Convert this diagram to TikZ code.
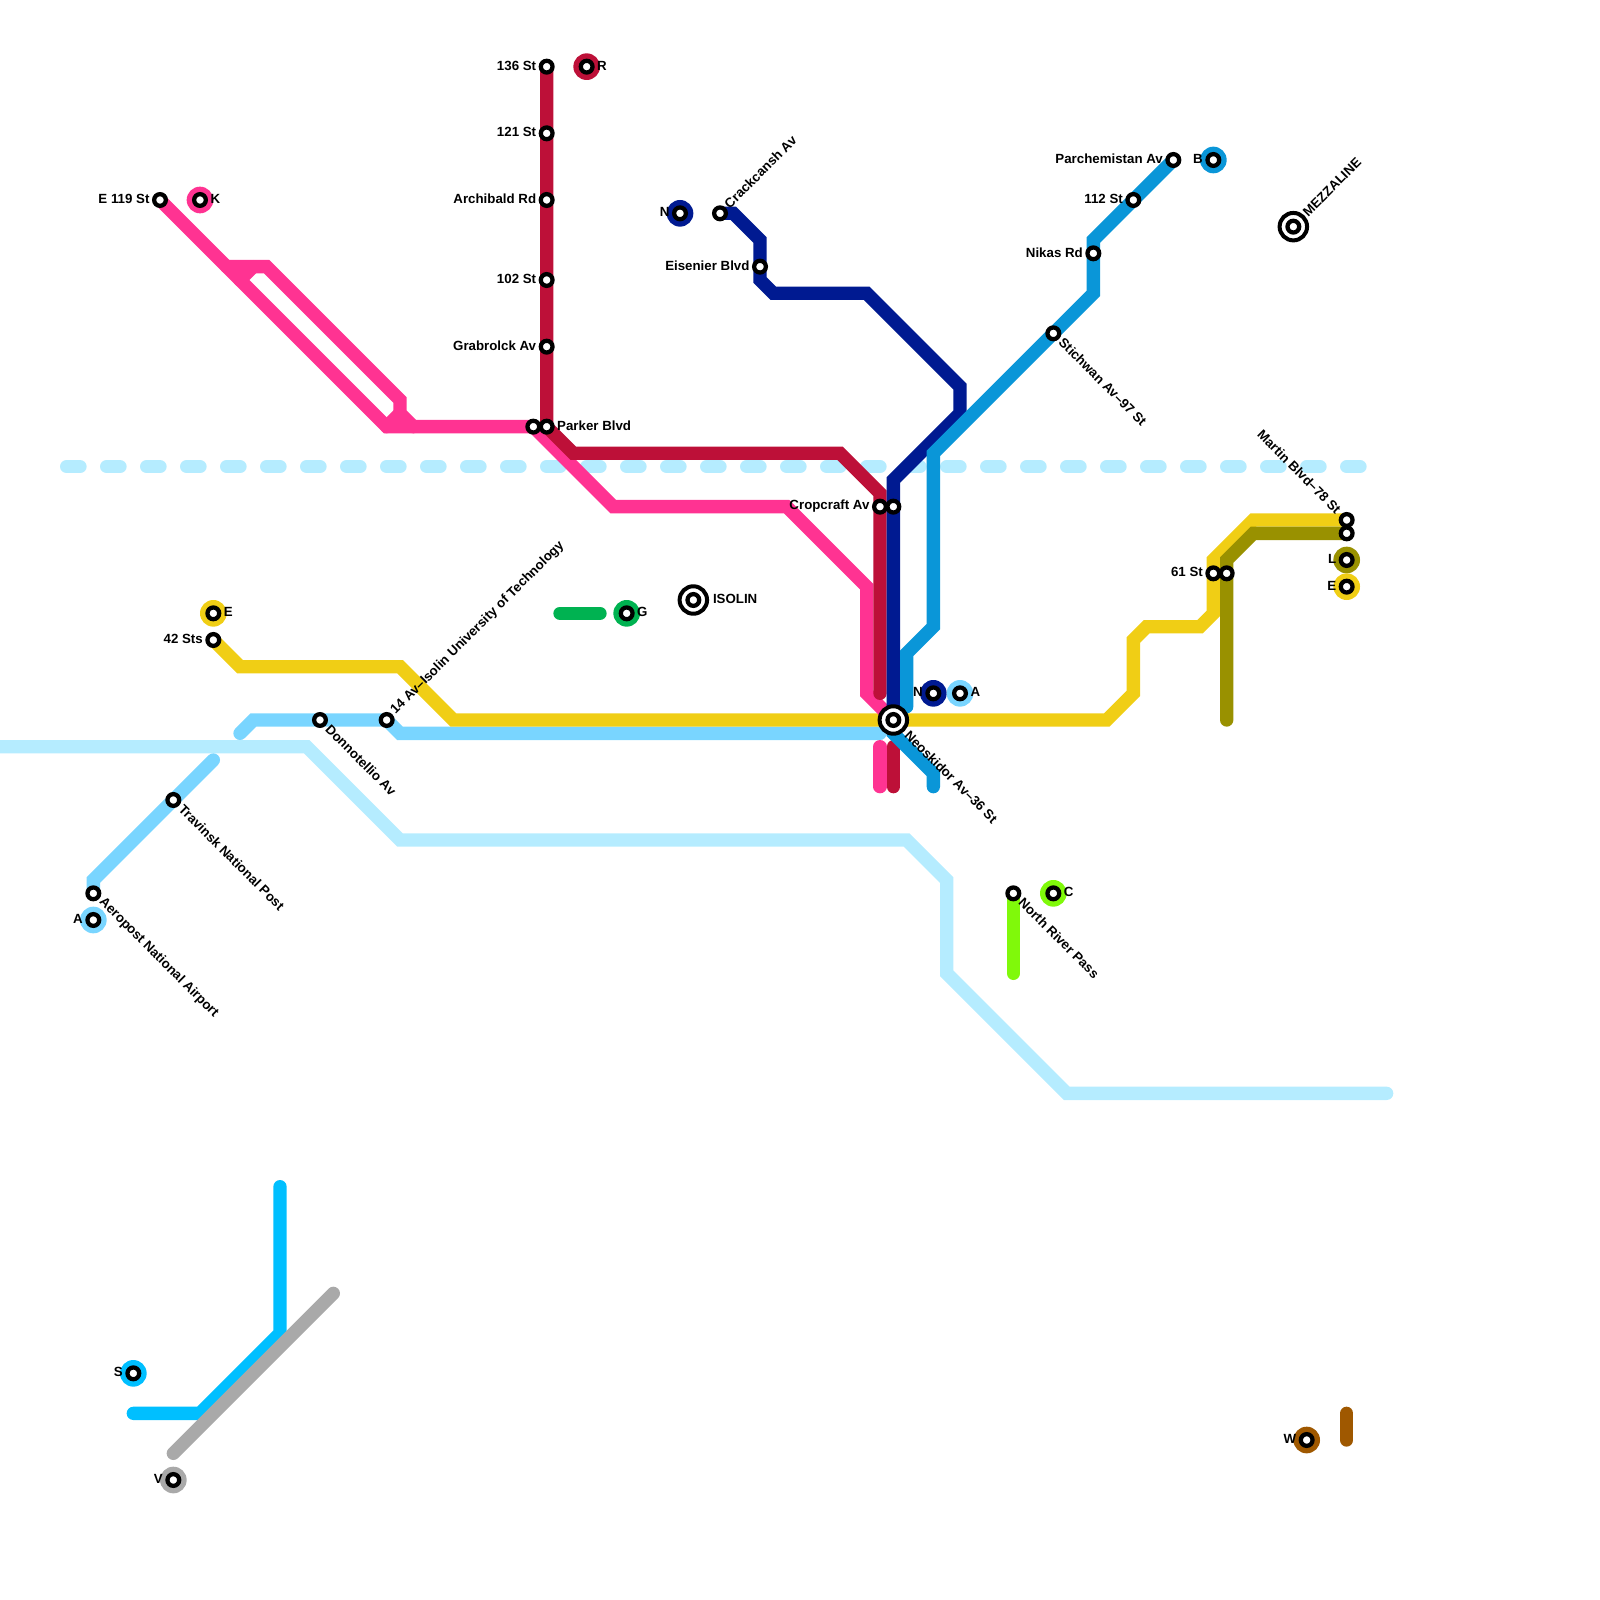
\documentclass[tikz,border=0pt]{standalone}
\usepackage{fontspec}
\setmainfont{Liberation Sans}
\usetikzlibrary{backgrounds}
\definecolor{paleline}{HTML}{B5ECFF}
\definecolor{skyline}{HTML}{79D5FF}
\definecolor{pinkline}{HTML}{FF3392}
\definecolor{redline}{HTML}{BD1038}
\definecolor{navyline}{HTML}{001A91}
\definecolor{blueline}{HTML}{0A96D8}
\definecolor{yellowline}{HTML}{F0CE15}
\definecolor{oliveline}{HTML}{999100}
\definecolor{limeline}{HTML}{80F90A}
\definecolor{greenline}{HTML}{00B251}
\definecolor{brightline}{HTML}{00BFFF}
\definecolor{greyline}{HTML}{A9A9A9}
\definecolor{brownline}{HTML}{9F5800}
\begin{document}
\begin{tikzpicture}[
    x=0.2cm, y=-0.2cm,
    stn/.style={circle, draw=black, fill=white, line width=0.64mm, minimum size=1.76mm, inner sep=0pt, outer sep=0pt},
    disc/.style={circle, inner sep=0pt, outer sep=0pt, minimum size=4mm},
    hub/.style={circle, draw=black, fill=white, line width=0.6mm, minimum size=4.12mm, inner sep=0pt, outer sep=0pt},
    route/.style={line width=2mm, line cap=round},
    lab/.style={inner sep=0pt, yshift=0.4pt, font=\fontsize{5.67}{6}\selectfont\bfseries},
    ur/.style={lab, rotate=45, anchor=west, xshift=3.8pt},
    dr/.style={lab, rotate=-45, anchor=west, xshift=4.6pt},
    ul/.style={lab, rotate=-45, anchor=east, xshift=-4.6pt}
]
\useasboundingbox (0,0) rectangle (120,120);

% markers
\node[disc, fill=redline] (dR) at (44,5) {};
\node[disc, fill=pinkline] (dK) at (15,15) {};
\node[disc, fill=navyline] (dN1) at (51,16) {};
\node[disc, fill=blueline] (dB) at (91,12) {};
\node[disc, fill=oliveline] (dL) at (101,42) {};
\node[disc, fill=yellowline] (dE2) at (101,44) {};
\node[disc, fill=yellowline] (dE1) at (16,46) {};
\node[disc, fill=greenline] (dG) at (47,46) {};
\node[disc, fill=navyline] (dN2) at (70,52) {};
\node[disc, fill=skyline] (dA2) at (72,52) {};
\node[disc, fill=limeline] (dC) at (79,67) {};
\node[disc, fill=skyline] (dA1) at (7,69) {};
\node[disc, fill=brightline] (dS) at (10,103) {};
\node[disc, fill=brownline] (dW) at (98,108) {};
\node[disc, fill=greyline] (dV) at (13,111) {};

% stations
\node[stn] (s136) at (41,5) {};
\node[stn] (s121) at (41,10) {};
\node[stn] (arch) at (41,15) {};
\node[stn] (s102) at (41,21) {};
\node[stn] (grab) at (41,26) {};
\node[stn] (park) at (41,32) {};
\node[stn] (park2) at (40,32) {};
\node[stn] (e119) at (12,15) {};
\node[stn] (crack) at (54,16) {};
\node[stn] (eisen) at (57,20) {};
\node[stn] (parch) at (88,12) {};
\node[stn] (s112) at (85,15) {};
\node[stn] (nikas) at (82,19) {};
\node[stn] (stich) at (79,25) {};
\node[stn] (crop) at (66,38) {};
\node[stn] (crop2) at (67,38) {};
\node[stn] (mart) at (101,39) {};
\node[stn] (mart2) at (101,40) {};
\node[stn] (s61) at (91,43) {};
\node[stn] (s61b) at (92,43) {};
\node[stn] (s42) at (16,48) {};
\node[stn] (donn) at (24,54) {};
\node[stn] (av14) at (29,54) {};
\node[stn] (trav) at (13,60) {};
\node[stn] (aero) at (7,67) {};
\node[stn] (north) at (76,67) {};

\node[stn] (sR) at (dR) {};
\node[stn] (sK) at (dK) {};
\node[stn] (sN1) at (dN1) {};
\node[stn] (sB) at (dB) {};
\node[stn] (sL) at (dL) {};
\node[stn] (sE2) at (dE2) {};
\node[stn] (sE1) at (dE1) {};
\node[stn] (sG) at (dG) {};
\node[stn] (sN2) at (dN2) {};
\node[stn] (sA2) at (dA2) {};
\node[stn] (sC) at (dC) {};
\node[stn] (sA1) at (dA1) {};
\node[stn] (sS) at (dS) {};
\node[stn] (sW) at (dW) {};
\node[stn] (sV) at (dV) {};

% interchanges
\node[hub] (neoh) at (67,54) {};
\node[stn] (neo) at (neoh) {};
\node[hub] (isoh) at (52,45) {};
\node[stn] (iso) at (isoh) {};
\node[hub] (mezh) at (97,17) {};
\node[stn] (mez) at (mezh) {};

% labels
\node[lab, left=4.3pt] (t136) at (s136) {136 St};
\node[lab, left=4.3pt] (t121) at (s121) {121 St};
\node[lab, left=4.3pt] (tarch) at (arch) {Archibald Rd};
\node[lab, left=4.3pt] (t102) at (s102) {102 St};
\node[lab, left=4.3pt] (tgrab) at (grab) {Grabrolck Av};
\node[lab, right=4.3pt] (tpark) at (park) {Parker Blvd};
\node[lab, left=4.3pt] (te119) at (e119) {E 119 St};
\node[lab, left=4.3pt] (teisen) at (eisen) {Eisenier Blvd};
\node[lab, left=4.3pt] (tparch) at (parch) {Parchemistan Av};
\node[lab, left=4.3pt] (t112) at (s112) {112 St};
\node[lab, left=4.3pt] (tnikas) at (nikas) {Nikas Rd};
\node[lab, left=4.3pt] (tcrop) at (crop) {Cropcraft Av};
\node[lab, left=4.3pt] (t61) at (s61) {61 St};
\node[lab, left=4.3pt] (t42) at (s42) {42 Sts};
\node[lab, right=8.2pt] (tiso) at (iso) {ISOLIN};

\node[ur] (tcrack) at (crack) {Crackcansh Av};
\node[ur, xshift=3.1pt] (tmez) at (mez) {MEZZALINE};
\node[ur] (tav14) at (av14) {14 Av–Isolin University of Technology};
\node[dr] (tstich) at (stich) {Stichwan Av–97 St};
\node[dr] (tdonn) at (donn) {Donnotellio Av};
\node[dr] (ttrav) at (trav) {Travinsk National Post};
\node[dr] (taero) at (aero) {Aeropost National Airport};
\node[dr, xshift=3.6pt] (tneo) at (neo) {Neoskidor Av–36 St};
\node[dr] (tnorth) at (north) {North River Pass};
\node[ul] (tmart) at (mart) {Martin Blvd–78 St};

\node[lab, right=4.3pt] (tR) at (sR) {R};
\node[lab, right=4.3pt] (tK) at (sK) {K};
\node[lab, left=4.3pt]  (tN1) at (sN1) {N};
\node[lab, left=4.3pt]  (tB) at (sB) {B};
\node[lab, left=4.3pt]  (tL) at (sL) {L};
\node[lab, left=4.3pt]  (tE2) at (sE2) {E};
\node[lab, right=4.3pt] (tE1) at (sE1) {E};
\node[lab, right=4.3pt] (tG) at (sG) {G};
\node[lab, left=4.3pt]  (tN2) at (sN2) {N};
\node[lab, right=4.3pt] (tA2) at (sA2) {A};
\node[lab, right=4.3pt] (tC) at (sC) {C};
\node[lab, left=4.3pt]  (tA1) at (sA1) {A};
\node[lab, left=4.3pt]  (tS) at (sS) {S};
\node[lab, left=4.3pt]  (tW) at (sW) {W};
\node[lab, left=4.3pt]  (tV) at (sV) {V};

% free line ends
\coordinate (pale0) at (0,56);
\coordinate (pale1) at (104,82);
\coordinate (dash0) at (5,35);
\coordinate (dash1) at (102,35);
\coordinate (sky0) at (18,55);
\coordinate (sky1) at (66,55);
\coordinate (sky2) at (16,57);
\coordinate (pk0) at (18,21);
\coordinate (pkstub0) at (66,56);
\coordinate (pkstub1) at (66,59);
\coordinate (rdstub0) at (67,56);
\coordinate (rdstub1) at (67,59);
\coordinate (rdend) at (66,52);
\coordinate (blstub) at (68,53);
\coordinate (blend) at (70,59);
\coordinate (olend) at (92,54);
\coordinate (grn0) at (42,46);
\coordinate (grn1) at (45,46);
\coordinate (limeend) at (76,73);
\coordinate (bri0) at (10,106);
\coordinate (bri1) at (21,89);
\coordinate (gry0) at (13,109);
\coordinate (gry1) at (25,97);
\coordinate (brn0) at (101,106);
\coordinate (brn1) at (101,108);

\begin{pgfonlayer}{background}
\draw[route, paleline] (pale0) -- (23,56) -- (30,63) -- (68,63) -- (71,66) -- (71,73) -- (80,82) -- (pale1);
\draw[route, paleline, dash pattern=on 2mm off 4mm] (dash0) -- (dash1);

\draw[route, skyline] (sky0) -- (19,54) -- (donn.center) -- (av14.center) -- (30,55) -- (sky1);
\draw[route, skyline] (sky2) -- (trav.center) -- (7,66) -- (aero.center);

\draw[route, yellowline] (s42.center) -- (18,50) -- (30,50) -- (34,54) -- (neo.center) -- (83,54) -- (85,52) -- (85,48) -- (86,47) -- (90,47) -- (91,46) -- (s61.center) -- (91,42) -- (94,39) -- (mart.center);
\draw[route, oliveline] (mart2.center) -- (94,40) -- (92,42) -- (s61b.center) -- (olend);

\draw[route, pinkline] (e119.center) -- (29,32) -- (park2.center) -- (46,38) -- (59,38) -- (65,44) -- (65,52) -- (neo.center);
\draw[route, pinkline] (17,20) -- (20,20) -- (30,30) -- (30,31) -- (31,32);
\draw[route, pinkline] (pk0) -- (19,20);
\draw[route, pinkline] (29,32) -- (30,31);
\draw[route, pinkline] (pkstub0) -- (pkstub1);

\draw[route, redline] (s136.center) -- (s121.center) -- (arch.center) -- (s102.center) -- (grab.center) -- (park.center) -- (43,34) -- (63,34) -- (66,37) -- (crop.center) -- (rdend);
\draw[route, redline] (rdstub0) -- (rdstub1);

\draw[route, navyline] (crack.center) -- (55,16) -- (57,18) -- (eisen.center) -- (57,21) -- (58,22) -- (65,22) -- (72,29) -- (72,31) -- (67,36) -- (crop2.center) -- (neo.center);

\draw[route, blueline] (parch.center) -- (s112.center) -- (82,18) -- (nikas.center) -- (82,22) -- (stich.center) -- (70,34) -- (70,47) -- (68,49) -- (blstub);
\draw[route, blueline] (neo.center) -- (67,55) -- (70,58) -- (blend);

\draw[route, greenline] (grn0) -- (grn1);
\draw[route, limeline] (north.center) -- (limeend);
\draw[route, brightline] (bri0) -- (15,106) -- (21,100) -- (bri1);
\draw[route, greyline] (gry0) -- (gry1);
\draw[route, brownline] (brn0) -- (brn1);
\end{pgfonlayer}

\end{tikzpicture}
\end{document}
